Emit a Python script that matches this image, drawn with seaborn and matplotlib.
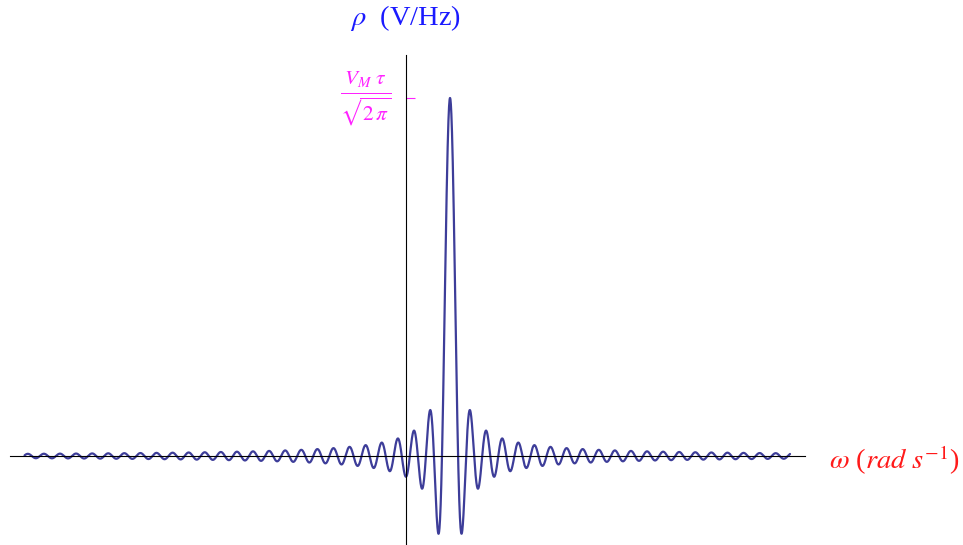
import numpy as np
import pandas as pd
import matplotlib
matplotlib.use("Agg")
import matplotlib.pyplot as plt
import seaborn as sns

# spectrum of a rectangular pulse: rho(w) = V_M tau / sqrt(2 pi) * sinc((w - w0) tau / 2)
# values (peak normalised to 1)
omega_center = 17.2      # position of the main lobe
tau = 2.0                # pulse width
omega_start = -149.0     # first plotted frequency
omega_end = 150.0        # last plotted frequency
peak_value = 1.0         # V_M tau / sqrt(2 pi)

omega = np.linspace(omega_start, omega_end, 6000)
rho = peak_value * np.sinc((omega - omega_center) * tau / 2 / np.pi)
df = pd.DataFrame({"omega": omega, "rho": rho})

sns.set_style("white")
plt.rcParams["font.family"] = ["Liberation Serif", "DejaVu Serif"]
plt.rcParams["mathtext.fontset"] = "stix"

fig = plt.figure(figsize=(9.63, 5.45), dpi=100)
ax = fig.add_axes([0, 0, 1, 1])

sns.lineplot(data=df, x="omega", y="rho", ax=ax, color="#3d3d99",
             linewidth=1.6, estimator=None, sort=False)

# pixel -> data mapping of the reference frame
px_per_x = 2.56
px_per_y = 358.0
x0_px, y0_px = 406, 456
ax.set_xlim((0 - x0_px) / px_per_x, (963 - x0_px) / px_per_x)
ax.set_ylim(-(545 - y0_px) / px_per_y, y0_px / px_per_y)

for s in ["top", "right"]:
    ax.spines[s].set_visible(False)
ax.spines["left"].set_position(("data", 0))
ax.spines["bottom"].set_position(("data", 0))
ax.spines["left"].set_bounds(-(545 - y0_px) / px_per_y, (y0_px - 55) / px_per_y)
ax.spines["bottom"].set_bounds((10 - x0_px) / px_per_x, (805 - x0_px) / px_per_x)
for s in ["left", "bottom"]:
    ax.spines[s].set_color("black")
    ax.spines[s].set_linewidth(0.8)

ax.set_xticks([])
ax.set_yticks([peak_value])
ax.set_yticklabels([r"$\frac{V_M\ \tau}{\sqrt{2\,\pi}}$"], color="#ff22ff", fontsize=22)
for lab in ax.get_yticklabels():
    lab.set_va("center")
ax.tick_params(axis="y", left=True, direction="in", length=6.5, width=0.8,
               color="#ff22ff", pad=11)
ax.set_xlabel("")
ax.set_ylabel("")

fig.text(406 / 963, 1 - 18 / 545, r"$\rho$  (V/Hz)", color="#1a1aff", fontsize=20.5,
         ha="center", va="center")
fig.text(829 / 963, 1 - 460 / 545, r"$\omega$ ($rad$ $s^{-1}$)", color="#ff1a1a", fontsize=20.5,
         ha="left", va="center")

fig.savefig("out.png", dpi=100)
